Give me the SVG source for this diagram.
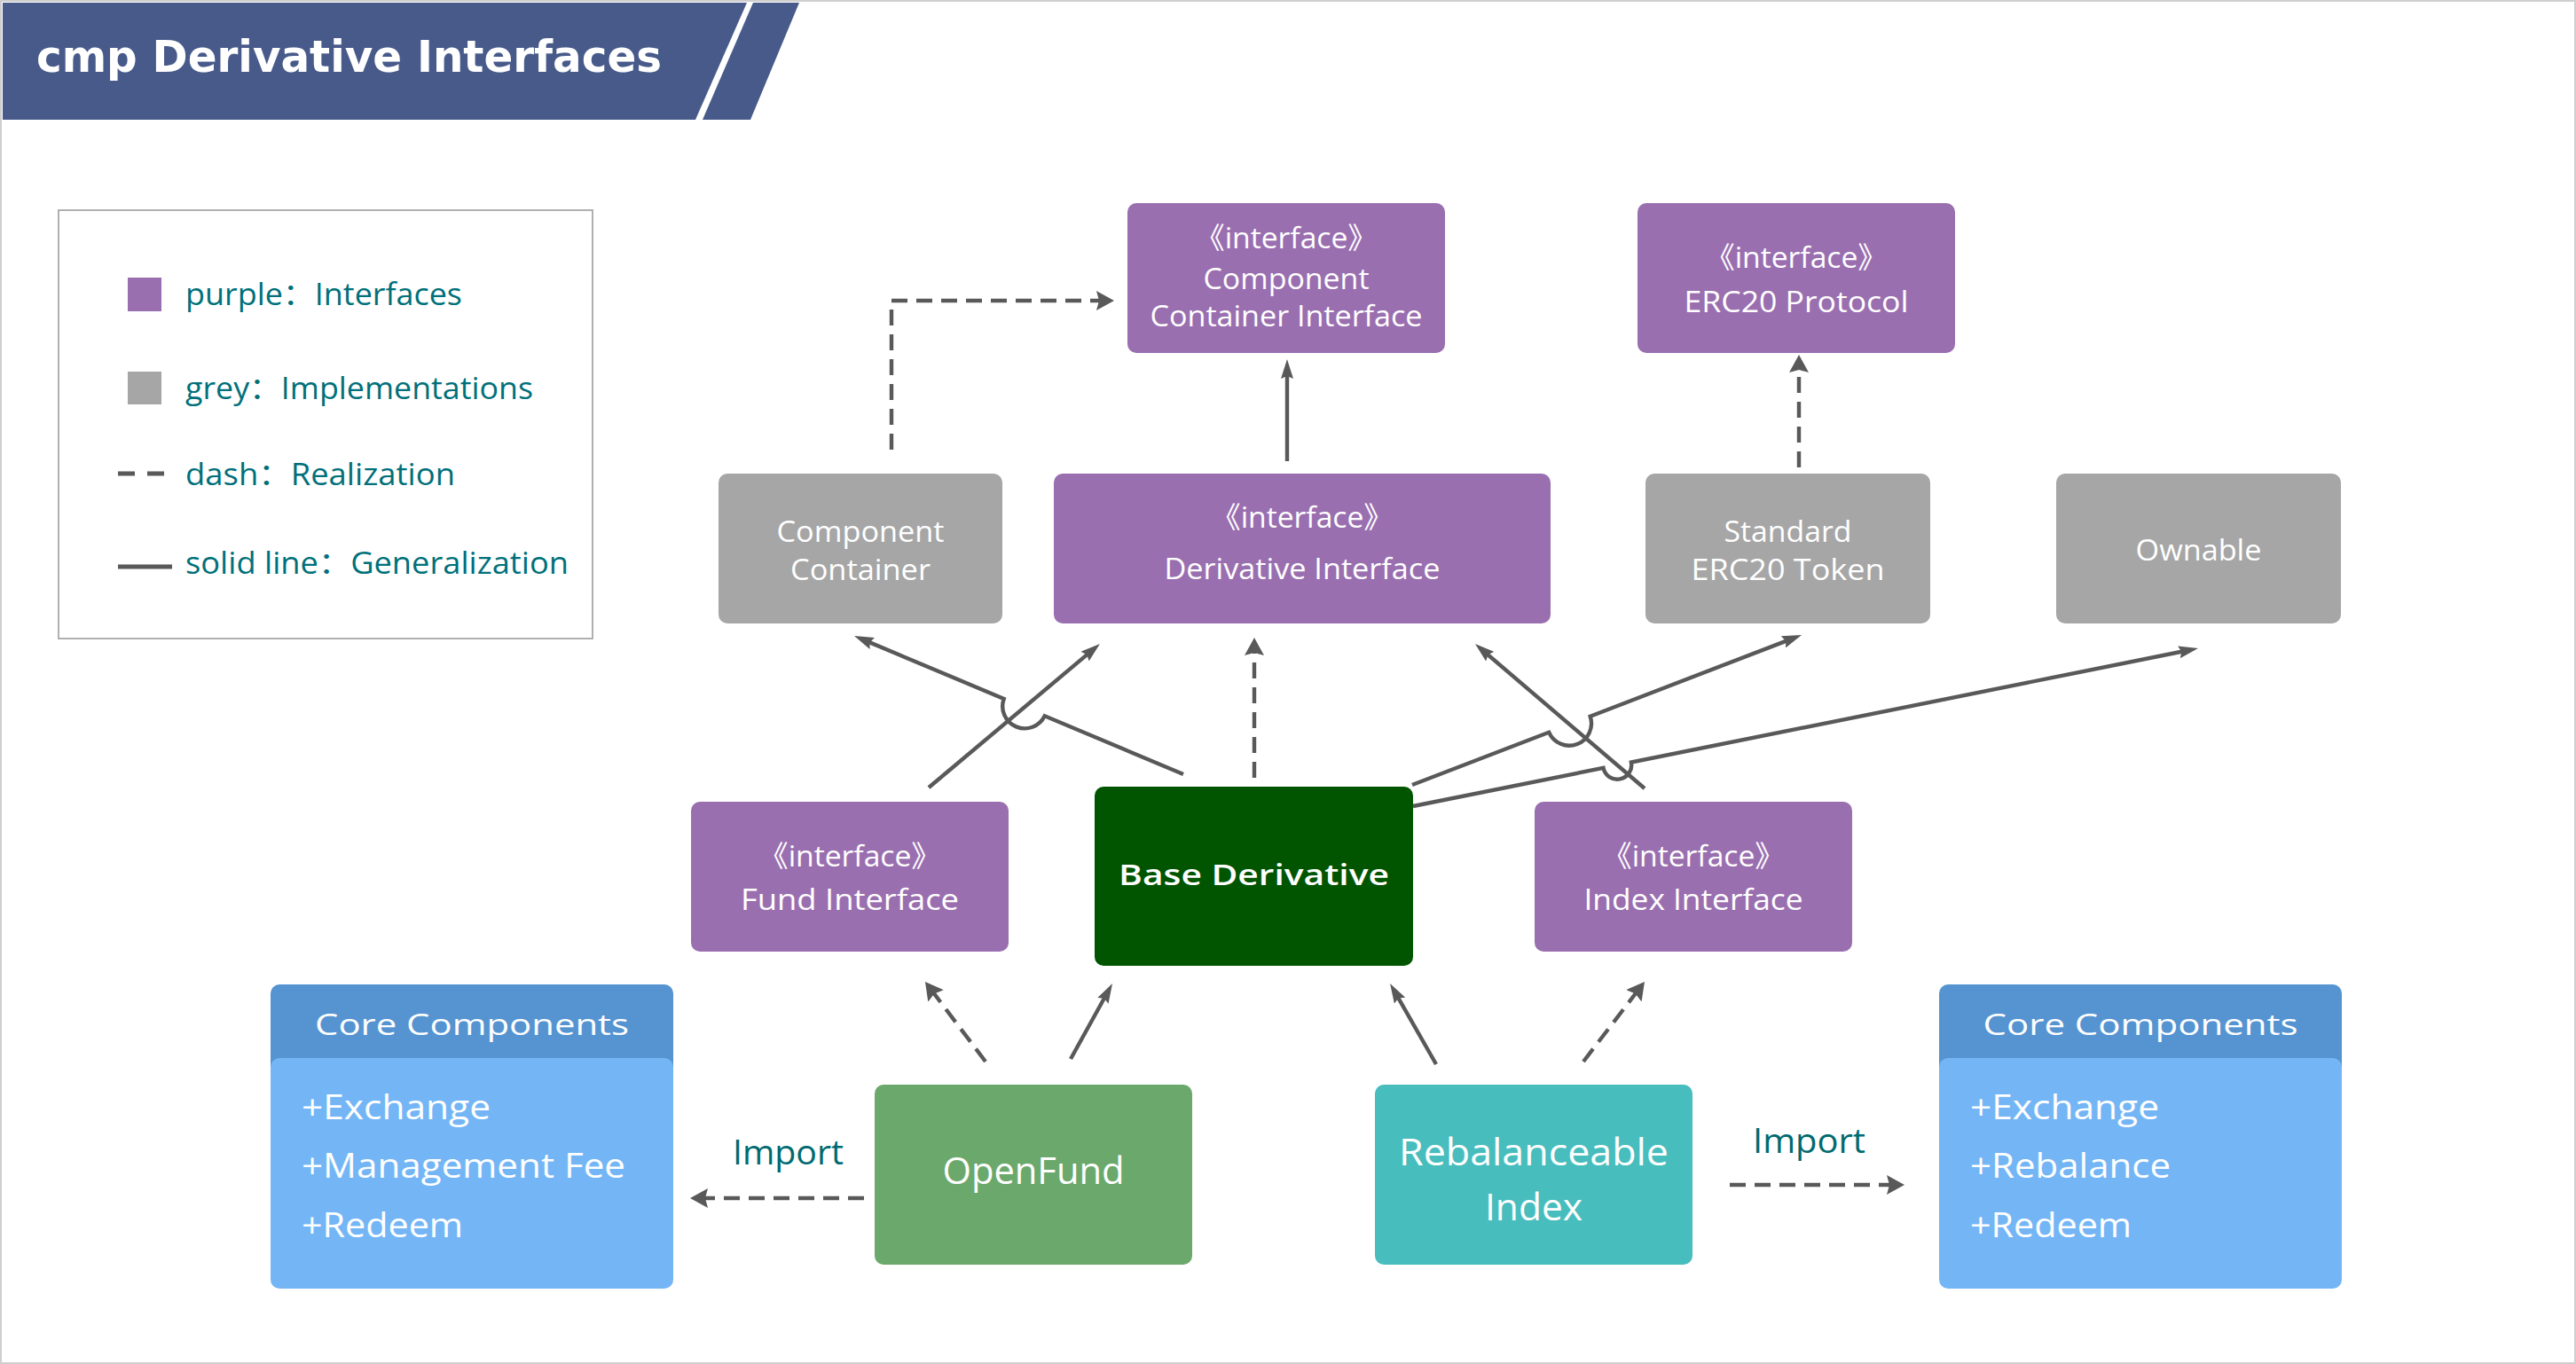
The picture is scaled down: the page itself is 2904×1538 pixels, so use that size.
<svg xmlns="http://www.w3.org/2000/svg" width="2904" height="1538" viewBox="0 0 2904 1538">
<style>
text{font-variant-ligatures:none}
.lbl{font-family:"Open Sans","Noto Sans CJK SC",sans-serif;fill:#ffffff;text-anchor:middle;font-size:33px}
.big{font-size:42px}
.leg{font-family:"Open Sans","Noto Sans CJK SC",sans-serif;fill:#00707a;font-size:34px}
.imp{font-family:"Open Sans","Noto Sans CJK SC",sans-serif;fill:#006a70;font-size:38px}
.item{font-family:"Open Sans","Noto Sans CJK SC",sans-serif;fill:#ffffff;font-size:38px}
.purple{fill:#9a6fb0}
.grey{fill:#a6a6a6}
.ln{fill:none;stroke:#595959;stroke-width:4.4}
.dash{stroke-dasharray:18 10}
</style>
<defs>
<marker id="aS" markerUnits="userSpaceOnUse" markerWidth="22" markerHeight="14" viewBox="0 0 22 14" refX="12" refY="7" orient="auto"><path d="M0,0 L22,7 L0,14 L3,7 z" fill="#595959"/></marker>
<marker id="aD" markerUnits="userSpaceOnUse" markerWidth="20" markerHeight="22" viewBox="0 0 20 22" refX="10" refY="11" orient="auto"><path d="M0,0 L20,11 L0,22 L3,11 z" fill="#595959"/></marker>
</defs>
<rect x="1" y="1" width="2902" height="1536" fill="#ffffff" stroke="#cfcfcf" stroke-width="2"/>
<g id="title">
<polygon points="3,3 842,3 784,135 3,135" fill="#475a8a"/>
<polygon points="849,3 901,3 846,135 792,135" fill="#475a8a"/>
<text x="41" y="81" font-family="'DejaVu Sans',Verdana,sans-serif" font-weight="bold" font-size="49" fill="#ffffff" textLength="705" lengthAdjust="spacingAndGlyphs">cmp Derivative Interfaces</text>
</g>
<g id="legend">
<rect x="66" y="237" width="602" height="483" fill="#ffffff" stroke="#b0b0b0" stroke-width="2"/>
<rect x="144" y="313" width="38" height="38" class="purple"/>
<text class="leg" x="209" y="344" textLength="312" lengthAdjust="spacingAndGlyphs">purple：Interfaces</text>
<rect x="144" y="419" width="38" height="37" class="grey"/>
<text class="leg" x="209" y="450" textLength="392" lengthAdjust="spacingAndGlyphs">grey：Implementations</text>
<line x1="133" y1="534" x2="186" y2="534" stroke="#595959" stroke-width="5" stroke-dasharray="19 14"/>
<text class="leg" x="209" y="547" textLength="304" lengthAdjust="spacingAndGlyphs">dash：Realization</text>
<line x1="133" y1="639" x2="194" y2="639" stroke="#595959" stroke-width="5"/>
<text class="leg" x="209" y="647" textLength="432" lengthAdjust="spacingAndGlyphs">solid line：Generalization</text>
</g>
<g id="connectors">
<path class="ln dash" d="M1005,507 V339 H1246" marker-end="url(#aD)"/>
<path class="ln" d="M1451,520 V415" marker-end="url(#aS)"/>
<path class="ln dash" d="M2028,527 V410" marker-end="url(#aD)"/>
<path class="ln" d="M1334,873 L1177.7,807.3 A25,25 0 0 1 1131.7,787.9 L972.2,720.9" marker-end="url(#aS)"/>
<path class="ln" d="M1047,888 L1232.3,732.4" marker-end="url(#aS)"/>
<path class="ln dash" d="M1414,877 V729" marker-end="url(#aD)"/>
<path class="ln" d="M1854,889 L1670.6,732.5" marker-end="url(#aS)"/>
<path class="ln" d="M1592,885 L1746.1,825.7 A25,25 0 0 0 1792.7,807.7 L2021.7,719.6" marker-end="url(#aS)"/>
<path class="ln" d="M1593,909 L1807.5,865.9 A16,16 0 0 0 1838.9,859.5 L2468.2,733" marker-end="url(#aS)"/>
<path class="ln dash" d="M1111,1197 L1049,1115" marker-end="url(#aD)"/>
<path class="ln" d="M1207,1194 L1249.2,1117.8" marker-end="url(#aS)"/>
<path class="ln" d="M1619,1200 L1572,1117.7" marker-end="url(#aS)"/>
<path class="ln dash" d="M1785,1197 L1847.9,1114.9" marker-end="url(#aD)"/>
<path class="ln dash" d="M974,1351 H788" marker-end="url(#aD)"/>
<path class="ln dash" d="M1950,1336 H2137" marker-end="url(#aD)"/>
<text class="imp" x="826" y="1313" textLength="125" lengthAdjust="spacingAndGlyphs">Import</text>
<text class="imp" x="1976" y="1300" textLength="127" lengthAdjust="spacingAndGlyphs">Import</text>
</g>
<g id="component-container-interface">
<rect x="1271" y="229" width="358" height="169" rx="10" class="purple"/>
<text class="lbl" x="1450" y="280" textLength="206" lengthAdjust="spacingAndGlyphs">《interface》</text>
<text class="lbl" x="1450" y="326" textLength="187" lengthAdjust="spacingAndGlyphs">Component</text>
<text class="lbl" x="1450" y="368" textLength="307" lengthAdjust="spacingAndGlyphs">Container Interface</text>
</g>
<g id="erc20-protocol">
<rect x="1846" y="229" width="358" height="169" rx="10" class="purple"/>
<text class="lbl" x="2025" y="302" textLength="206" lengthAdjust="spacingAndGlyphs">《interface》</text>
<text class="lbl" x="2025" y="352" textLength="253" lengthAdjust="spacingAndGlyphs">ERC20 Protocol</text>
</g>
<g id="component-container">
<rect x="810" y="534" width="320" height="169" rx="10" class="grey"/>
<text class="lbl" x="970" y="611" textLength="189" lengthAdjust="spacingAndGlyphs">Component</text>
<text class="lbl" x="970" y="654" textLength="158" lengthAdjust="spacingAndGlyphs">Container</text>
</g>
<g id="derivative-interface">
<rect x="1188" y="534" width="560" height="169" rx="10" class="purple"/>
<text class="lbl" x="1468" y="595" textLength="206" lengthAdjust="spacingAndGlyphs">《interface》</text>
<text class="lbl" x="1468" y="653" textLength="311" lengthAdjust="spacingAndGlyphs">Derivative Interface</text>
</g>
<g id="standard-erc20-token">
<rect x="1855" y="534" width="321" height="169" rx="10" class="grey"/>
<text class="lbl" x="2015.5" y="611" textLength="144" lengthAdjust="spacingAndGlyphs">Standard</text>
<text class="lbl" x="2015.5" y="654" textLength="218" lengthAdjust="spacingAndGlyphs">ERC20 Token</text>
</g>
<g id="ownable">
<rect x="2318" y="534" width="321" height="169" rx="10" class="grey"/>
<text class="lbl" x="2478.5" y="632" textLength="142" lengthAdjust="spacingAndGlyphs">Ownable</text>
</g>
<g id="fund-interface">
<rect x="779" y="904" width="358" height="169" rx="10" class="purple"/>
<text class="lbl" x="958" y="977" textLength="206" lengthAdjust="spacingAndGlyphs">《interface》</text>
<text class="lbl" x="958" y="1026" textLength="246" lengthAdjust="spacingAndGlyphs">Fund Interface</text>
</g>
<g id="base-derivative">
<rect x="1234" y="887" width="359" height="202" rx="10" fill="#015501"/>
<text class="lbl" x="1413.5" y="998" font-size="40" font-weight="600" textLength="305" lengthAdjust="spacingAndGlyphs">Base Derivative</text>
</g>
<g id="index-interface">
<rect x="1730" y="904" width="358" height="169" rx="10" class="purple"/>
<text class="lbl" x="1909" y="977" textLength="206" lengthAdjust="spacingAndGlyphs">《interface》</text>
<text class="lbl" x="1909" y="1026" textLength="247" lengthAdjust="spacingAndGlyphs">Index Interface</text>
</g>
<g id="core-components-left">
<rect x="305" y="1110" width="454" height="110" rx="10" fill="#5594d1"/>
<rect x="305" y="1193" width="454" height="260" rx="10" fill="#74b6f5"/>
<text class="lbl" x="532" y="1167" font-size="40" textLength="354" lengthAdjust="spacingAndGlyphs">Core Components</text>
<text class="item" x="340" y="1262" textLength="213" lengthAdjust="spacingAndGlyphs">+Exchange</text>
<text class="item" x="340" y="1328" textLength="365" lengthAdjust="spacingAndGlyphs">+Management Fee</text>
<text class="item" x="340" y="1395" textLength="182" lengthAdjust="spacingAndGlyphs">+Redeem</text>
</g>
<g id="openfund">
<rect x="986" y="1223" width="358" height="203" rx="10" fill="#6ba86b"/>
<text class="lbl big" x="1165" y="1335" textLength="205" lengthAdjust="spacingAndGlyphs">OpenFund</text>
</g>
<g id="rebalanceable-index">
<rect x="1550" y="1223" width="358" height="203" rx="10" fill="#48bdbd"/>
<text class="lbl big" x="1729" y="1314" textLength="304" lengthAdjust="spacingAndGlyphs">Rebalanceable</text>
<text class="lbl big" x="1729" y="1376" textLength="110" lengthAdjust="spacingAndGlyphs">Index</text>
</g>
<g id="core-components-right">
<rect x="2186" y="1110" width="454" height="110" rx="10" fill="#5594d1"/>
<rect x="2186" y="1193" width="454" height="260" rx="10" fill="#74b6f5"/>
<text class="lbl" x="2413" y="1167" font-size="40" textLength="355" lengthAdjust="spacingAndGlyphs">Core Components</text>
<text class="item" x="2221" y="1262" textLength="213" lengthAdjust="spacingAndGlyphs">+Exchange</text>
<text class="item" x="2221" y="1328" textLength="226" lengthAdjust="spacingAndGlyphs">+Rebalance</text>
<text class="item" x="2221" y="1395" textLength="182" lengthAdjust="spacingAndGlyphs">+Redeem</text>
</g>
</svg>
